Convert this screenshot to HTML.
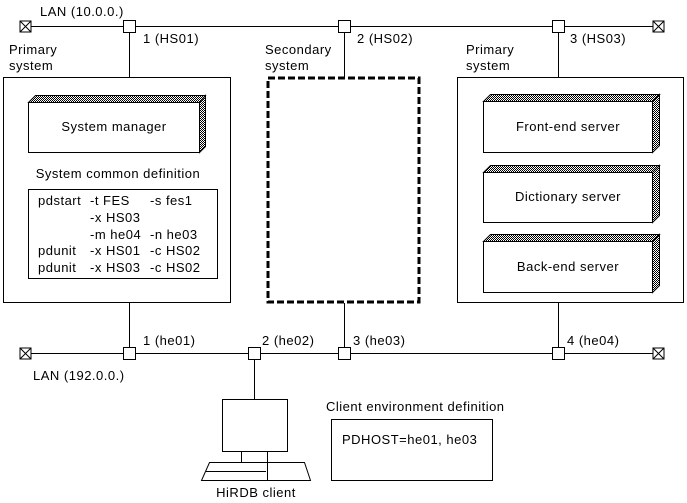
<!DOCTYPE html>
<html><head><meta charset="utf-8"><style>
html,body{margin:0;padding:0;background:#fff;}
svg{display:block;font-family:"Liberation Sans",sans-serif;font-size:13px;letter-spacing:0.5px;}
</style></head><body>
<svg width="687" height="503" viewBox="0 0 687 503" xmlns="http://www.w3.org/2000/svg">
<defs>
<pattern id="dots" width="2" height="2" patternUnits="userSpaceOnUse">
<rect width="2" height="2" fill="#fff"/><rect width="1" height="1" fill="#000"/><rect x="1" y="1" width="1" height="1" fill="#000"/>
</pattern>
<g id="term"><rect x="-5.5" y="-5.5" width="11" height="11" fill="#fff" stroke="#000"/><path d="M-5.5 -5.5L5.5 5.5M5.5 -5.5L-5.5 5.5" stroke="#000"/></g>
<g id="node"><rect x="-6" y="-6" width="12" height="12" fill="#fff" stroke="#000"/></g>
</defs>
<g stroke="#000" fill="none" stroke-width="1">
<line x1="25" y1="26.5" x2="658" y2="26.5"/>
<line x1="129.5" y1="26" x2="129.5" y2="77"/>
<line x1="344.5" y1="26" x2="344.5" y2="77"/>
<line x1="558.5" y1="26" x2="558.5" y2="77"/>
<line x1="25" y1="353.5" x2="658" y2="353.5"/>
<line x1="129.5" y1="303" x2="129.5" y2="353"/>
<line x1="344.5" y1="303" x2="344.5" y2="353"/>
<line x1="558.5" y1="303" x2="558.5" y2="353"/>
<line x1="254.5" y1="353" x2="254.5" y2="399"/>
<rect x="3.5" y="77.5" width="227" height="225"/>
<rect x="457.5" y="77.5" width="226" height="225"/>
<rect x="268" y="78" width="151" height="224" stroke-width="3" stroke-dasharray="7,3"/>
<rect x="28.5" y="189.5" width="189" height="89"/>
<rect x="331.5" y="419.5" width="161" height="61"/>
<rect x="222.5" y="399.5" width="65" height="52"/>
<line x1="241.5" y1="452" x2="241.5" y2="462"/>
<line x1="267.5" y1="452" x2="267.5" y2="481"/>
<path d="M209.5 462.5H304.5L310.5 480.5H201.5Z"/>
<line x1="206" y1="471.5" x2="266" y2="471.5"/>
</g>
<g stroke="#000" stroke-width="1">
<g>
<path d="M28.5 102.5L35.5 95.5H205.5L199.5 102.5Z" fill="url(#dots)"/>
<path d="M199.5 102.5L205.5 95.5V146.5L199.5 152.5Z" fill="url(#dots)"/>
<rect x="28.5" y="102.5" width="171" height="50" fill="#fff"/>
</g>
<g>
<path d="M483.5 101.5L490.5 94.5H659.5L652.5 101.5Z" fill="url(#dots)"/>
<path d="M652.5 101.5L659.5 94.5V145.5L652.5 152.5Z" fill="url(#dots)"/>
<rect x="483.5" y="101.5" width="169" height="51" fill="#fff"/>
</g>
<g>
<path d="M483.5 172.5L490.5 165.5H659.5L652.5 172.5Z" fill="url(#dots)"/>
<path d="M652.5 172.5L659.5 165.5V215.5L652.5 222.5Z" fill="url(#dots)"/>
<rect x="483.5" y="172.5" width="169" height="50" fill="#fff"/>
</g>
<g>
<path d="M483.5 241.5L490.5 234.5H659.5L652.5 241.5Z" fill="url(#dots)"/>
<path d="M652.5 241.5L659.5 234.5V285.5L652.5 292.5Z" fill="url(#dots)"/>
<rect x="483.5" y="241.5" width="169" height="51" fill="#fff"/>
</g>
</g>
<use href="#term" x="25.5" y="26.5"/>
<use href="#term" x="658.5" y="26.5"/>
<use href="#term" x="25.5" y="353.5"/>
<use href="#term" x="658.5" y="353.5"/>
<use href="#node" x="129.5" y="26.5"/>
<use href="#node" x="344.5" y="26.5"/>
<use href="#node" x="558.5" y="26.5"/>
<use href="#node" x="129.5" y="353.5"/>
<use href="#node" x="254.5" y="353.5"/>
<use href="#node" x="344.5" y="353.5"/>
<use href="#node" x="558.5" y="353.5"/>
<g fill="#000">
<text x="40" y="16">LAN (10.0.0.)</text>
<text x="143" y="43">1 (HS01)</text>
<text x="357" y="43">2 (HS02)</text>
<text x="570" y="43">3 (HS03)</text>
<text x="9" y="54">Primary</text>
<text x="9" y="70">system</text>
<text x="265" y="54">Secondary</text>
<text x="265" y="70">system</text>
<text x="466" y="54">Primary</text>
<text x="466" y="70">system</text>
<text x="114" y="131" text-anchor="middle">System manager</text>
<text x="118" y="178" text-anchor="middle">System common definition</text>
<text x="38" y="205">pdstart</text><text x="90" y="205">-t FES</text><text x="150" y="205">-s fes1</text>
<text x="90" y="222">-x HS03</text>
<text x="90" y="239">-m he04</text><text x="150" y="239">-n he03</text>
<text x="38" y="255">pdunit</text><text x="90" y="255">-x HS01</text><text x="150" y="255">-c HS02</text>
<text x="38" y="272">pdunit</text><text x="90" y="272">-x HS03</text><text x="150" y="272">-c HS02</text>
<text x="568" y="131" text-anchor="middle">Front-end server</text>
<text x="568" y="201" text-anchor="middle">Dictionary server</text>
<text x="568" y="271" text-anchor="middle">Back-end server</text>
<text x="143" y="345">1 (he01)</text>
<text x="262" y="345">2 (he02)</text>
<text x="353" y="345">3 (he03)</text>
<text x="567" y="345">4 (he04)</text>
<text x="33" y="380">LAN (192.0.0.)</text>
<text x="326" y="411">Client environment definition</text>
<text x="342" y="444">PDHOST=he01, he03</text>
<text x="256" y="497" text-anchor="middle">HiRDB client</text>
</g>
</svg>
</body></html>
